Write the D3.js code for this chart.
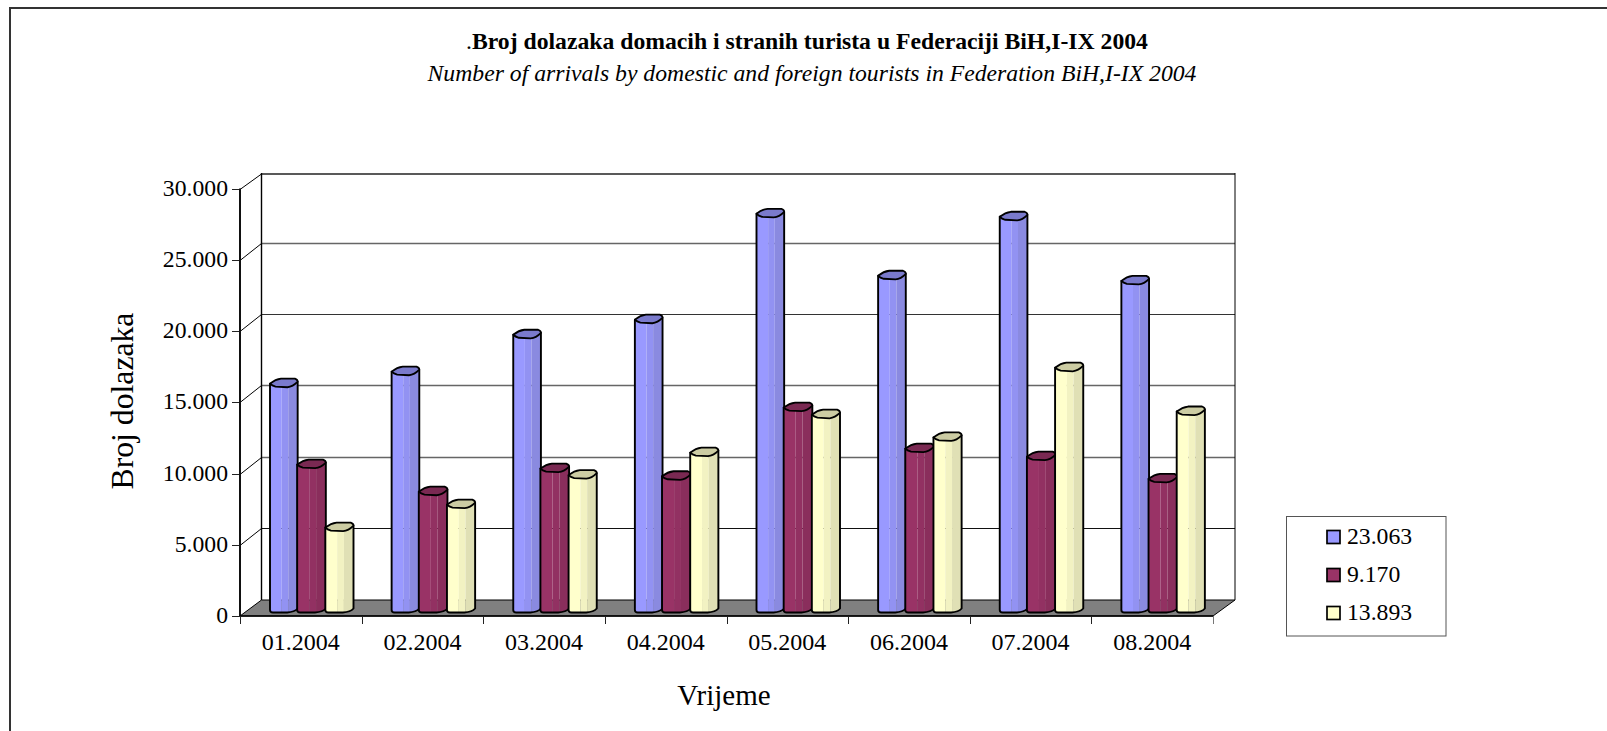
<!DOCTYPE html>
<html><head><meta charset="utf-8">
<script src="https://cdn.jsdelivr.net/npm/d3@7"></script>
<style>html,body{margin:0;padding:0;background:#fff}svg{display:block}text{font-family:"Liberation Serif",serif;fill:#000}</style>
</head><body><svg id="c" width="1607" height="731"></svg>
<script>
const months=["01.2004","02.2004","03.2004","04.2004","05.2004","06.2004","07.2004","08.2004"];
const seriesNames=["23.063","9.170","13.893"];
const blueValues=[15850,16690,19280,20340,27770,23420,27560,23063];
const maroonValues=[10170,8270,9890,9350,14170,11290,10730,9170];
const yellowValues=[5750,7360,9430,11010,13670,12080,16970,13893];
const seriesValues=[blueValues,maroonValues,yellowValues];
const yTicks=[0,5000,10000,15000,20000,25000,30000];
const palette=[
 {main:"#9999FF",mid:"#9292F2",dark:"#8A8AE0",top:"#7A7ACC"},
 {main:"#993366",mid:"#923162",dark:"#8A2E5C",top:"#7A2952"},
 {main:"#FFFFCC",mid:"#F2F2C2",dark:"#E0E0B5",top:"#CCCCA3"}];
const titleMain="Broj dolazaka domacih i stranih turista u Federaciji BiH,I-IX 2004";
const titleSub="Number of arrivals by domestic and foreign tourists in Federation BiH,I-IX 2004";

const svg=d3.select("#c");
const fmt=v=>d3.format(",")(v).replace(/,/g,".");
const L=240,R=1213,dx=21.5,dy=16,front0=616,front30=188.5;
const y=d3.scaleLinear().domain([0,30000]).range([front0,front30]);
const x=d3.scaleBand().domain(months).range([L,R]);
const inner=d3.scaleBand().domain(d3.range(3)).range([29.5,114]).padding(0);

svg.append("line").attr("x1",10).attr("x2",1607).attr("y1",8).attr("y2",8).attr("stroke","#333").attr("stroke-width",2);
svg.append("line").attr("x1",10).attr("x2",10).attr("y1",7).attr("y2",731).attr("stroke","#333").attr("stroke-width",2);

// floor
svg.append("polygon").attr("fill","#808080").attr("stroke","#000").attr("stroke-width",1)
 .attr("points",[[L,y(0)],[L+dx,y(0)-dy],[R+dx+.5,y(0)-dy],[R,y(0)]].join(" "));
const grid=svg.append("g");
const gridStyle={5000:["#111",1],10000:["#666",1.5],15000:["#666",1.5],20000:["#333",1.2],25000:["#666",1.5],30000:["#222",1.4]};
yTicks.forEach((t,i)=>{
  const yy=Math.round(y(t))+.5;
  const d=(i>0&&i<6)?17:dy-.5;
  if(i>0){
    grid.append("line").attr("x1",L+dx).attr("x2",R+dx+.5).attr("y1",yy-d).attr("y2",yy-d).attr("stroke",gridStyle[t][0]).attr("stroke-width",gridStyle[t][1]);
    grid.append("line").attr("x1",L).attr("x2",L+dx).attr("y1",yy).attr("y2",yy-d).attr("stroke","#000").attr("stroke-width",1);
  }
  grid.append("line").attr("x1",L-8).attr("x2",L).attr("y1",yy).attr("y2",yy).attr("stroke","#222").attr("stroke-width",1);
  svg.append("text").attr("x",L-12).attr("y",yy+6).attr("text-anchor","end").attr("font-size",23.7).text(fmt(t));
});
grid.append("line").attr("x1",L+dx).attr("x2",L+dx).attr("y1",y(30000)-dy+.5).attr("y2",y(0)-dy).attr("stroke","#000").attr("stroke-width",1.4);
grid.append("line").attr("x1",R+dx+.5).attr("x2",R+dx+.5).attr("y1",y(30000)-dy+.5).attr("y2",y(0)-dy).attr("stroke","#000").attr("stroke-width",1);
grid.append("line").attr("x1",L).attr("x2",L).attr("y1",y(30000)).attr("y2",y(0)).attr("stroke","#111").attr("stroke-width",2);
grid.append("line").attr("x1",L).attr("x2",R).attr("y1",y(0)).attr("y2",y(0)).attr("stroke","#000").attr("stroke-width",1.4);

// x ticks + labels
months.concat(["_end"]).forEach((m,i)=>{
  const xx=Math.round(L+i*x.step())+.5;
  svg.append("line").attr("x1",xx).attr("x2",xx).attr("y1",y(0)).attr("y2",y(0)+8).attr("stroke",i==8?"#777":"#222").attr("stroke-width",1);
  if(i<8) svg.append("text").attr("x",x(m)+x.bandwidth()/2).attr("y",650).attr("text-anchor","middle").attr("font-size",24).text(m);
});

// cylinders
const base=y(0)-5;
function cyl(g,x0,x1,v,c){
  const top=base-(front0-y(v))-1.5, w=x1-x0;
  const yb=base+1.5, rise=5;
  const bodyPath=`M${x0},${top} L${x0},${yb-2.5} Q${x0},${yb} ${x0+3},${yb} L${x0+w*.62},${yb} Q${x1-3},${yb-.5} ${x1},${yb-rise+1} L${x1},${top-2} Z`;
  const id="c"+Math.round(x0)+"_"+Math.round(v);
  g.append("clipPath").attr("id",id).append("path").attr("d",bodyPath);
  const b=g.append("g").attr("clip-path",`url(#${id})`);
  [[0,.42,c.main],[.42,.66,c.mid],[.66,1.01,c.dark]].forEach(s=>{
    b.append("rect").attr("x",x0+w*s[0]).attr("y",top-rise-1).attr("width",w*(s[1]-s[0])).attr("height",yb-top+rise+2).attr("fill",s[2]);
  });
  g.append("path").attr("d",bodyPath).attr("fill","none").attr("stroke","#000").attr("stroke-width",1.9).attr("stroke-linejoin","round");
  g.append("path").attr("fill",c.top).attr("stroke","#000").attr("stroke-width",1.8).attr("stroke-linejoin","round")
   .attr("d",`M${x0},${top} Q${x0+w*.2},${top-rise+.6} ${x0+w*.4},${top-rise} L${x0+w*.9},${top-rise} Q${x1},${top-rise+1} ${x1},${top-2} Q${x0+w*.82},${top+3.2} ${x0+w*.63},${top+3.6} L${x0+w*.2},${top+3} Q${x0+2},${top+2} ${x0},${top} Z`);
}
months.forEach((m,i)=>{
  const g=svg.append("g");
  seriesValues.forEach((vals,s)=>{
    const a=x(m)+inner(s), b=a+inner.bandwidth();
    cyl(g,a+(s==0?.5:-.5),b+(s==2?-.5:0),vals[i],palette[s]);
  });
});

// titles
const t=svg.append("text").attr("x",807).attr("y",49).attr("text-anchor","middle").attr("font-size",23.7);
t.append("tspan").text(".");
t.append("tspan").attr("font-weight","bold").text(titleMain);
svg.append("text").attr("x",812).attr("y",81).attr("text-anchor","middle").attr("font-size",23.7).attr("font-style","italic").text(titleSub);
svg.append("text").attr("transform","translate(133,401) rotate(-90)").attr("text-anchor","middle").attr("font-size",31.7).text("Broj dolazaka");
svg.append("text").attr("x",724).attr("y",705).attr("text-anchor","middle").attr("font-size",29).text("Vrijeme");

// legend
svg.append("rect").attr("x",1286.5).attr("y",516.5).attr("width",159.5).attr("height",119.5).attr("fill","#fff").attr("stroke","#555").attr("stroke-width",1);
seriesNames.forEach((n,i)=>{
  const yy=530.5+i*38;
  svg.append("rect").attr("x",1327).attr("y",yy).attr("width",13).attr("height",13).attr("fill",palette[i].main).attr("stroke","#000").attr("stroke-width",1.7);
  svg.append("text").attr("x",1347).attr("y",yy+13).attr("font-size",23.7).text(n);
});
</script></body></html>
